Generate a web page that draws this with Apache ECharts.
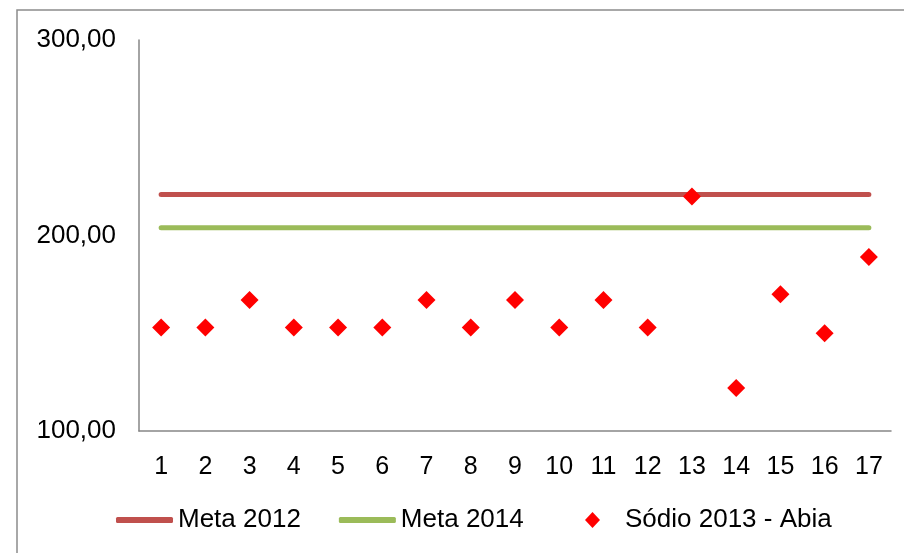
<!DOCTYPE html>
<html>
<head>
<meta charset="utf-8">
<script src="https://cdn.jsdelivr.net/npm/echarts@6/dist/echarts.min.js"></script>
<style>
  html, body { margin: 0; padding: 0; background: #fff; }
  #chart { width: 904px; height: 553px; }
</style>
</head>
<body>
<div id="chart"></div>
<script>
// eixo x: amostras 1..17
var categories = ['1', '2', '3', '4', '5', '6', '7', '8', '9', '10', '11', '12', '13', '14', '15', '16', '17'];
var yTicks = [100, 200, 300];

// metas (constantes)
var meta2012 = [221, 221, 221, 221, 221, 221, 221, 221, 221, 221, 221, 221, 221, 221, 221, 221, 221];
var meta2014 = [204, 204, 204, 204, 204, 204, 204, 204, 204, 204, 204, 204, 204, 204, 204, 204, 204];

// sódio 2013 - Abia
var sodio2013 = [153, 153, 167, 153, 153, 153, 167, 153, 167, 153, 167, 153, 220, 122, 170, 150, 189];

var chart = echarts.init(document.getElementById('chart'), null, { renderer: 'canvas' });

var font = 'Liberation Sans, Arial, sans-serif';
var legendText = { fontFamily: font, fontSize: 26, color: '#000' };

var option = {
  backgroundColor: '#fff',
  animation: false,
  textStyle: { fontFamily: font },
  graphic: [{
    type: 'rect',
    shape: { x: 17, y: 10, width: 920, height: 580 },
    style: { fill: 'none', stroke: '#8c8c8c', lineWidth: 1.5 },
    silent: true
  }],
  grid: { left: 139, right: 13, top: 40, bottom: 122, containLabel: false },
  legend: [
    {
      left: 111,
      top: 502,
      itemWidth: 57,
      itemHeight: 6,
      itemGap: 38,
      icon: 'roundRect',
      textStyle: legendText,
      data: ['Meta 2012', 'Meta 2014']
    },
    {
      left: 580,
      top: 502,
      itemWidth: 15,
      itemHeight: 16,
      icon: 'diamond',
      textStyle: Object.assign({ padding: [0, 0, 0, 20] }, legendText),
      data: ['Sódio 2013 - Abia']
    }
  ],
  xAxis: {
    type: 'category',
    data: categories,
    boundaryGap: true,
    axisLine: { lineStyle: { color: '#868686', width: 1.5 } },
    axisTick: { show: false },
    axisLabel: { color: '#000', fontSize: 25, margin: 24, fontFamily: font },
    splitLine: { show: false }
  },
  yAxis: {
    type: 'value',
    min: yTicks[0],
    max: yTicks[yTicks.length - 1],
    interval: 100,
    axisLine: { show: true, lineStyle: { color: '#868686', width: 1.5 } },
    axisTick: { show: false },
    splitLine: { show: false },
    axisLabel: {
      color: '#000', fontSize: 26, margin: 23, fontFamily: font,
      formatter: function (v) { return v.toFixed(2).replace('.', ','); }
    }
  },
  series: [
    {
      name: 'Meta 2012',
      type: 'line',
      data: meta2012,
      symbol: 'none',
      color: '#C0504D',
      lineStyle: { color: '#C0504D', width: 5, cap: 'round' }
    },
    {
      name: 'Meta 2014',
      type: 'line',
      data: meta2014,
      symbol: 'none',
      color: '#9BBB59',
      lineStyle: { color: '#9BBB59', width: 5, cap: 'round' }
    },
    {
      name: 'Sódio 2013 - Abia',
      type: 'scatter',
      data: sodio2013,
      symbol: 'diamond',
      symbolSize: 18,
      itemStyle: { color: '#FF0000', opacity: 1 },
      z: 5
    }
  ]
};

chart.setOption(option);
</script>
</body>
</html>
